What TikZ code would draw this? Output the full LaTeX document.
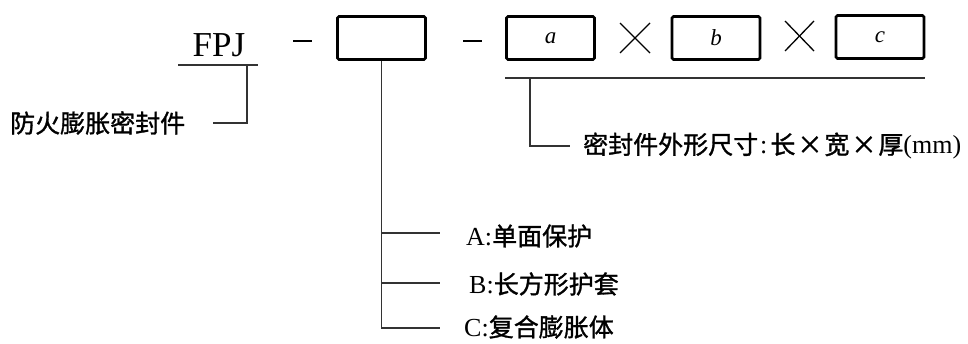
\documentclass[tikz,border=0pt]{standalone}
\usepackage{fontspec}
\setmainfont{Liberation Serif}
\newfontfamily\cjk{Noto Sans CJK SC}[AutoFakeBold=1.2]
\tikzset{
  cbox/.style={draw, line width=2.8pt, rounded corners=1.5pt, minimum width=88pt, minimum height=43pt, inner sep=0pt},
  conn/.style={line width=1.4pt, draw=black!80},
  lab/.style={anchor=west, inner sep=0pt, font=\cjk\bfseries\fontsize{25}{25}\selectfont},
  times/.style={line width=1.3pt}
}
\newcommand\latn[1]{{\rmfamily\mdseries\fontsize{26}{26}\selectfont #1}}
\begin{document}
\begin{tikzpicture}[x=1pt,y=-1pt]
\useasboundingbox (0,0) rectangle (968,344);
% FPJ
\node[inner sep=0pt, font=\fontsize{35}{35}\selectfont] (fpj) at (219,45) {FPJ};
\coordinate (ulL) at (178,65); \coordinate (ulR) at (258,65);
\draw[conn] (ulL) -- (ulR);
\node[lab] (fire) at (10,123) {防火膨胀密封件};
\coordinate (fj) at (247,65);
\coordinate (fe) at (213,123);
\draw[conn] (fj) |- (fe);
% dashes
\coordinate (d1a) at (293,41); \coordinate (d1b) at (312,41);
\draw[line width=1.3pt] (d1a) -- (d1b);
\coordinate (d2a) at (463,41); \coordinate (d2b) at (482,41);
\draw[line width=1.3pt] (d2a) -- (d2b);
% boxes
\node[cbox] (b1) at (381.5,38) {};
\node[cbox, font=\itshape\fontsize{23}{23}\selectfont] (ba) at (550.5,38) {a};
\node[cbox, font=\itshape\fontsize{23}{23}\selectfont] (bb) at (716,38) {b};
\node[cbox, font=\itshape\fontsize{23}{23}\selectfont] (bc) at (880,37) {c};
% times signs
\coordinate (x1a) at (620,23); \coordinate (x1b) at (650,53);
\coordinate (x1c) at (620,53); \coordinate (x1d) at (650,23);
\draw[times] (x1a) -- (x1b); \draw[times] (x1c) -- (x1d);
\coordinate (x2a) at (785,21); \coordinate (x2b) at (814,51);
\coordinate (x2c) at (785,51); \coordinate (x2d) at (814,21);
\draw[times] (x2a) -- (x2b); \draw[times] (x2c) -- (x2d);
% dimension line
\coordinate (dl) at (505,78); \coordinate (dr) at (925,78);
\draw[conn] (dl) -- (dr);
\coordinate (dj) at (530,78); \coordinate (de) at (570,146);
\draw[conn] (dj) |- (de);
\node[lab] (dim) at (583,146) {密封件外形尺寸\hspace{2pt}\latn{:}\hspace{3pt}长\hspace{2pt}×\hspace{2pt}宽\hspace{2pt}×\hspace{2pt}厚\latn{(mm)}};
% type tree
\coordinate (tA) at (440,233); \coordinate (tB) at (440,283); \coordinate (tC) at (440,328);
\draw[conn] (b1.south) -- (b1.south |- tC) -- (tC);
\draw[conn] (b1.south |- tA) -- (tA);
\draw[conn] (b1.south |- tB) -- (tB);
\node[lab] (lA) at (466,236) {\latn{A:}单面保护};
\node[lab] (lB) at (469,284) {\latn{B:}长方形护套};
\node[lab] (lC) at (464,327) {\latn{C:}复合膨胀体};
\end{tikzpicture}
\end{document}
